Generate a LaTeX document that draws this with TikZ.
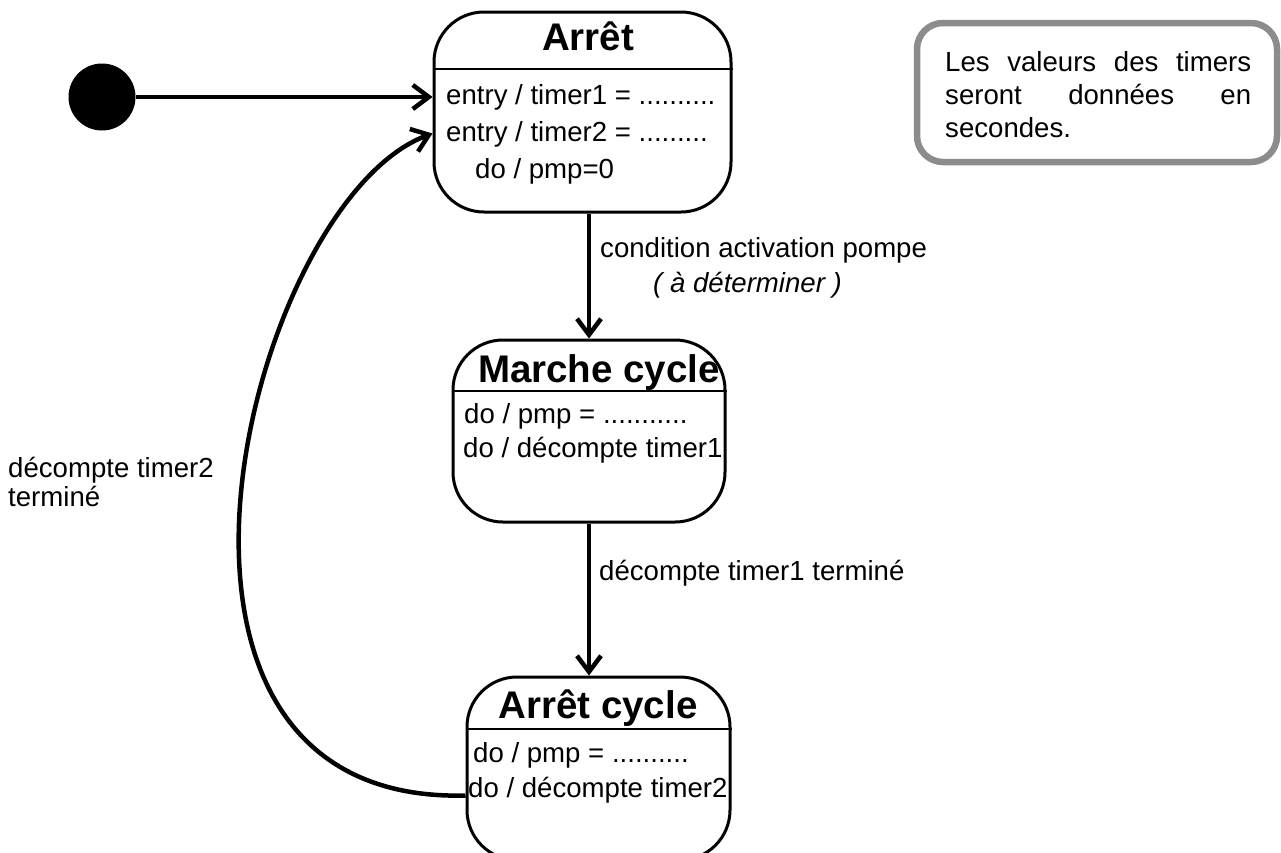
\documentclass[tikz,border=0pt]{standalone}
\usepackage{fontspec}
\setmainfont{Liberation Sans}
\usetikzlibrary{arrows.meta,calc}
\begin{document}
\begin{tikzpicture}[x=1pt,y=-1pt,
  statebox/.style={draw, line width=3pt, rounded corners=50pt, inner sep=0pt},
  sepline/.style={line width=2pt},
  body/.style={inner sep=0pt, font=\fontsize{27.6}{33}\selectfont},
  ttl/.style={inner sep=0pt, anchor=base, font=\bfseries\fontsize{38.5}{42}\selectfont},
  trans/.style={line width=4.5pt, -{Straight Barb[length=16pt,width=24pt]}},
  notebox/.style={draw=black!45, line width=6.5pt, rounded corners=26pt, inner sep=0pt}
]
\useasboundingbox (0,0) rectangle (1281,852);
\clip (0,0) rectangle (1281,852);

% initial state
\node[fill=black, circle, minimum size=67pt, inner sep=0pt] (init) at (102,97) {};

% states
\node[statebox, minimum width=297pt, minimum height=200pt] (arret) at (582.5,112) {};
\node[statebox, minimum width=272pt, minimum height=182pt] (marche) at (589,431) {};
\node[statebox, minimum width=263pt, minimum height=183pt] (cycle) at (598.5,768.5) {};

\draw[sepline] ($(arret.north west)+(0,58)$) -- ($(arret.north east)+(0,58)$);
\draw[sepline] ($(marche.north west)+(0,52)$) -- ($(marche.north east)+(0,52)$);
\draw[sepline] ($(cycle.north west)+(0,53)$) -- ($(cycle.north east)+(0,53)$);

% state texts
\node[ttl] (tarret) at (588,50) {Arrêt};
\node[body, anchor=base west] (ae1) at (446,104) {entry / timer1 = ..........};
\node[body, anchor=base west] (ae2) at (446,141) {entry / timer2 = .........};
\node[body, anchor=base west] (ae3) at (475,178) {do / pmp=0};

\node[ttl] (tmarche) at (599,382) {Marche cycle};
\node[body, anchor=base west] (mc1) at (464,423) {do / pmp = ...........};
\node[body, anchor=base west] (mc2) at (463,457) {do / décompte timer1};

\node[ttl] (tcycle) at (598,718) {Arrêt cycle};
\node[body, anchor=base west] (ac1) at (473,762) {do / pmp = ..........};
\node[body, anchor=base west] (ac2) at (468,797) {do / décompte timer2};

% transitions
\draw[trans] (init.east) -- (init -| arret.west);
\draw[trans] (arret.south -| marche.north) -- (marche.north);
\draw[trans] (marche.south) -- (marche.south |- cycle.north);
\coordinate (rstart) at ($(cycle.north west)+(0,120)$);
\coordinate (rend) at ($(arret.north west)+(0,123)$);
\draw[trans] (rstart) .. controls (95,805) and (250,200) .. (rend);

% transition labels
\node[body, anchor=base west] (l1) at (600,257) {condition activation pompe};
\node[body, anchor=base west] (l2) at (653,292) {\itshape ( à déterminer )};
\node[body, anchor=base west] (l3) at (599,580) {décompte timer1 terminé};
\node[body, anchor=base west, align=left, font=\fontsize{27.6}{29}\selectfont] (l4) at (8,506) {décompte timer2\\terminé};

% note
\node[notebox, minimum width=360pt, minimum height=139pt] (note) at (1097,92.5) {};
\node[body, anchor=base west, align=left] (notetxt) at (945,137)
  {\makebox[306pt][s]{Les valeurs des timers}\\\makebox[306pt][s]{seront données en}\\secondes.};
\end{tikzpicture}
\end{document}
